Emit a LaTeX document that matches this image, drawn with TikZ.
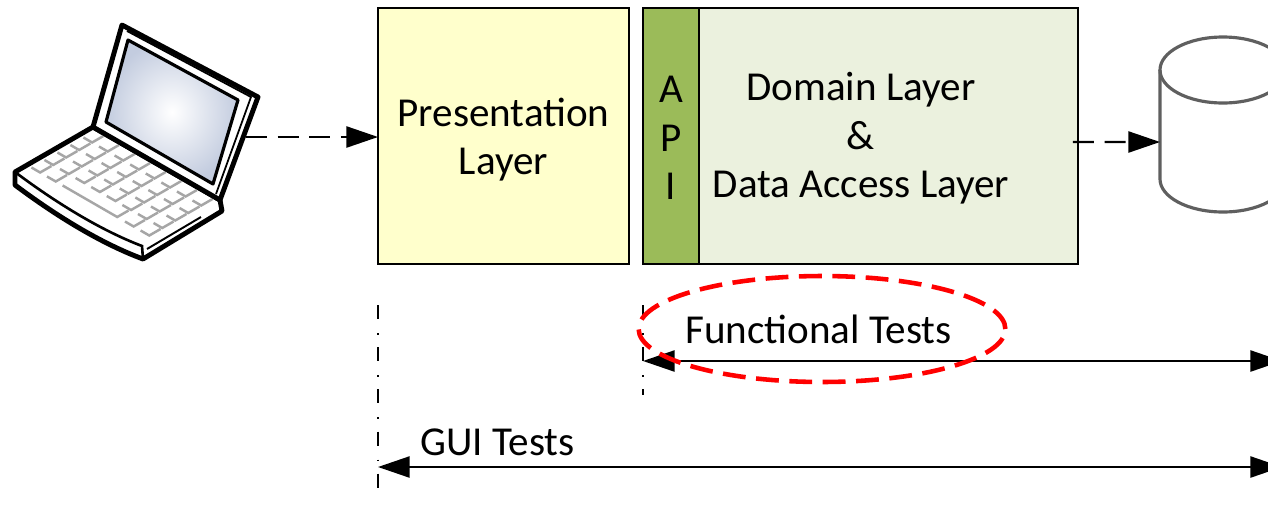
\documentclass[tikz,border=0pt]{standalone}
\usepackage{fontspec}
\setmainfont{Carlito}
\usetikzlibrary{arrows.meta, positioning, shapes.geometric}

\definecolor{presyellow}{HTML}{FFFFCC}
\definecolor{apigreen}{HTML}{9BBB59}
\definecolor{domgreen}{HTML}{EBF1DE}
\definecolor{dbgray}{HTML}{5F5F5F}
\definecolor{screenblue}{HTML}{C3CCDF}
\definecolor{keygray}{HTML}{A6A6A6}
\newcommand{\layerfont}{\fontsize{23.4}{27.6}\selectfont}

\begin{document}
\begin{tikzpicture}[
    x=0.02cm, y=0.02cm,
    layer/.style={draw, line width=1.1pt, inner sep=0pt, outer sep=0pt,
                  minimum height=5.12cm, font=\layerfont, align=center},
    tagtext/.style={font=\layerfont, inner sep=0pt},
    flow/.style={line width=1.2pt, dash pattern=on 12pt off 6pt,
                 -{Triangle[length=18pt, width=12pt]}},
    span/.style={line width=1.2pt,
                 {Triangle[length=18pt, width=12pt]}-{Triangle[length=18pt, width=12pt]}},
    guide/.style={line width=1.2pt, dash pattern=on 8pt off 8pt on 1pt off 7pt},
    laptop/.style={line width=2.8pt, line join=round},
    keystroke/.style={draw=keygray, line width=1.4pt}
  ]
    \useasboundingbox (0,0) rectangle (1268,-508);
    \clip (0,0) rectangle (1268,-508);

    % Laptop: base slab, keys, then the lid
    \draw[laptop, fill=white] (93,-127) -- (15,-172) -- (15,-185)
      .. controls (55,-215) and (100,-243) .. (143,-259) -- (222,-211)
      -- (220,-200) -- cycle;
    \draw[line width=1.5pt] (15,-172) .. controls (55,-202) and (100,-230) .. (142,-246)
      -- (143,-259);
    \draw[line width=1.1pt] (147,-249) -- (201,-217);
    \foreach \b in {29,44,59,74}
      \foreach \a in {5,23,...,131}
        \draw[keystroke] ({15+0.866*(\a+\b)},{-172-0.5*(\a-\b)}) -- ++(8.7,-5) -- ++(11.3,6.5);
    \foreach \a in {5,23,113,131}
      \draw[keystroke] ({15+0.866*(\a+14)},{-172-0.5*(\a-14)}) -- ++(8.7,-5) -- ++(11.3,6.5);
    \draw[keystroke] ({15+0.866*55},{-172-0.5*27}) -- ++(54.6,-31.5) -- ++(11.3,6.5);
    \draw[laptop, fill=white] (93,-127) -- (122,-25) -- (258,-97) -- (220,-200) -- cycle;
    \draw[line width=1pt] (127,-31) -- (251,-97) -- (216,-194);
    \shadedraw[inner color=white, outer color=screenblue, line width=1.8pt, line join=round]
      (128,-40) -- (238,-100) -- (213,-184) -- (106,-122) -- cycle;
    \coordinate (lapR) at (246,-137);

    % Layers
    \node[layer, fill=presyellow, minimum width=5.02cm] (pres) at (503.5,-136) {};
    \node[tagtext, align=center] (prestext) at ([yshift=-0.07cm]pres.center)
      {Presentation\\Layer};
    \node[layer, fill=apigreen, minimum width=1.12cm, right=0.28cm of pres] (api) {};
    \node[tagtext, align=center] (apitext) at ([yshift=-0.04cm]api.center)
      {A\\P\\I};
    \node[layer, fill=domgreen, minimum width=7.58cm, right=0pt of api] (dom) {};
    \node[tagtext, align=center] (domtext) at ([xshift=-0.55cm, yshift=-0.05cm]dom.center)
      {Domain Layer\\\&\\Data Access Layer};

    % Database
    \draw[dbgray, line width=1.8pt, fill=white] (1160,-70) -- (1160,-179)
      arc[start angle=180, end angle=360, x radius=63, y radius=33] -- (1286,-70);
    \draw[dbgray, line width=1.8pt] (1223,-70) ellipse[x radius=63, y radius=33];
    \coordinate (db) at (1160,-142);

    % Calls
    \draw[flow] (lapR) -- (lapR -| pres.west);
    \draw[flow] ([xshift=-0.1cm, yshift=-0.12cm]dom.east) -- (db);

    % Test scopes
    \draw[guide] (378,-305) -- (378,-495);
    \draw[guide] (643,-305) -- (643,-395);
    \coordinate (funL) at (643,-361);
    \coordinate (funR) at (1282,-361);
    \coordinate (guiL) at (378,-467);
    \coordinate (guiR) at (1282,-467);
    \draw[span] (funL) -- (funR);
    \draw[span] (guiL) -- (guiR);
    \node[tagtext, anchor=base west] (guitext) at (420,-455) {GUI Tests};
    \node[ellipse, draw=red, line width=2.6pt, dash pattern=on 13pt off 6pt,
          minimum width=7.04cm, minimum height=2.12cm, tagtext] (funtests)
      at (822,-329) {\hspace*{-4pt}Functional Tests};
\end{tikzpicture}
\end{document}
